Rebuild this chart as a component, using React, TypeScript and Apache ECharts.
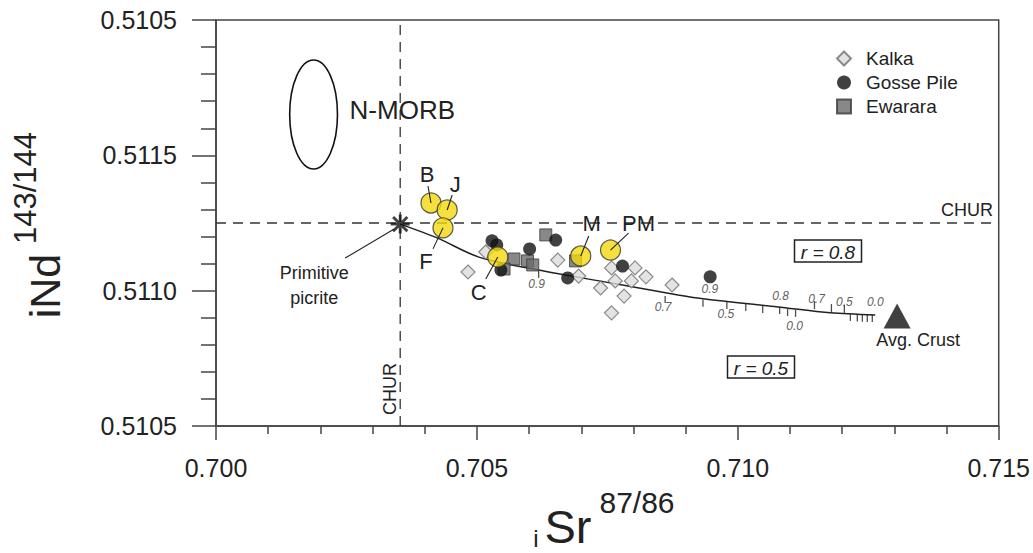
import React, { useEffect, useRef } from "react";
import * as echarts from "echarts";

const FONT = "Liberation Sans, Arial, Helvetica, sans-serif";

// Axis ticks / labels
const xMin = 0.7, xMax = 0.715, xInterval = 0.005;
const yMin = 0.5105, yMax = 0.512, yInterval = 0.0005;
const xTickLabels = ["0.700", "0.705", "0.710", "0.715"];
const yTickLabels = ["0.5105", "0.5110", "0.5115", "0.5105"];

// Data series: [iSr87/86, iNd143/144]
const kalka = [
  [0.70483, 0.511069], [0.70517, 0.511143], [0.70655, 0.511113], [0.70695, 0.511054],
  [0.70758, 0.511084], [0.70803, 0.511084], [0.70824, 0.511051], [0.70765, 0.511036],
  [0.70796, 0.511036], [0.70737, 0.51101], [0.70782, 0.51098], [0.70758, 0.510918],
  [0.70874, 0.511021],
];
const gossePile = [
  [0.70529, 0.511184], [0.70538, 0.511169], [0.70601, 0.511154], [0.70651, 0.511187],
  [0.70546, 0.511076], [0.70674, 0.511047], [0.70779, 0.511091], [0.70947, 0.511051],
];
const ewarara = [
  [0.70632, 0.511206], [0.70571, 0.511117], [0.70597, 0.51111], [0.70607, 0.511095],
  [0.70552, 0.51108], [0.70689, 0.51111],
];
const sampleNames = ["B", "J", "F", "C", "M", "PM"];
const sampleValues = [
  [0.70412, 0.511324], [0.70443, 0.511298], [0.70435, 0.511232],
  [0.7054, 0.511124], [0.70699, 0.511128], [0.70756, 0.51115],
];
// label offsets (px) and leader-line ends (px) relative to each sample
const sampleLabelOffset = [[-4, -28], [8, -26], [-17, 34], [-19, 35], [11, -33], [28, -27]];
const sampleLineOffset = [[-3, -17], [5, -15], [-10, 21], [-12, 22], [8, -20], [18, -17]];

const chur = { sr: 0.70353, nd: 0.51125 };
const churVertical = [[chur.sr, yMin], [chur.sr, yMax]];
const churHorizontal = [[xMin, chur.nd], [xMax, chur.nd]];
const picrite = [0.70353, 0.511246];
const avgCrust = [0.713053, 0.510906];
const nmorb = { sr: 0.70187, nd: 0.511651, halfSr: 0.000458, halfNd: 0.0002014 };

// Mixing curve
const mixCurve = [
  [0.70353, 0.511246], [0.704237, 0.511195], [0.705038, 0.511124], [0.706183, 0.511076],
  [0.707576, 0.511028], [0.708855, 0.510984], [0.70937, 0.510969], [0.710763, 0.51094],
  [0.711775, 0.510918], [0.712634, 0.51091],
];
const curveTicksDown = [
  [0.706183, 0.511073], [0.708607, 0.51098], [0.709332, 0.510966], [0.70979, 0.510958],
  [0.710153, 0.510951], [0.710477, 0.510943], [0.710802, 0.51094], [0.710954, 0.510932],
  [0.711107, 0.510929], [0.712157, 0.510914], [0.71229, 0.510912], [0.712386, 0.510911],
  [0.712481, 0.51091], [0.712577, 0.51091],
];
const curveTicksUp = [
  [0.711469, 0.510932], [0.711794, 0.510921], [0.712042, 0.510918],
];
const curveTickLabels = [
  [0.706145, 0.511025, "0.9"], [0.708569, 0.51094, "0.7"], [0.709466, 0.511006, "0.9"],
  [0.709771, 0.510914, "0.5"], [0.710821, 0.51098, "0.8"], [0.711088, 0.51087, "0.0"],
  [0.711508, 0.510969, "0.7"], [0.712042, 0.510958, "0.5"], [0.712634, 0.510958, "0.0"],
];

const STAR =
  "path://M8.5 0L11.5 0L11.5 20L8.5 20ZM0 8.5L20 8.5L20 11.5L0 11.5ZM3.56 1.44L18.56 16.44L16.44 18.56L1.44 3.56ZM16.44 1.44L18.56 3.56L3.56 18.56L1.44 16.44Z";

export default function App() {
  const ref = useRef<HTMLDivElement>(null);
  useEffect(() => {
    if (!ref.current) return;
    const chart = echarts.init(ref.current, undefined, { renderer: "svg" });
    const axisColor = "#444";
    const dashed = { color: "#333", width: 1.3, type: [10, 7] };
    const option: any = {
      animation: false,
      backgroundColor: "#fff",
      textStyle: { fontFamily: FONT },
      grid: {
        left: 216, right: 31, top: 20, bottom: 127,
        show: true, borderColor: axisColor, borderWidth: 1.5, backgroundColor: "transparent",
      },
      xAxis: {
        type: "value", min: xMin, max: xMax, interval: xInterval,
        axisLine: { lineStyle: { color: axisColor, width: 1.5 } },
        axisTick: { length: 14, lineStyle: { color: axisColor, width: 1.5 } },
        minorTick: { show: true, splitNumber: 5, length: 8, lineStyle: { color: axisColor, width: 1.5 } },
        splitLine: { show: false },
        axisLabel: {
          fontSize: 25, color: "#222", margin: 29, fontFamily: FONT,
          formatter: (v: number) => xTickLabels[Math.round((v - xMin) / xInterval)] ?? "",
        },
      },
      yAxis: {
        type: "value", min: yMin, max: yMax, interval: yInterval,
        axisLine: { lineStyle: { color: axisColor, width: 1.5 } },
        axisTick: { length: 24, lineStyle: { color: axisColor, width: 1.5 } },
        minorTick: { show: true, splitNumber: 5, length: 15, lineStyle: { color: axisColor, width: 1.5 } },
        splitLine: { show: false },
        axisLabel: {
          fontSize: 25, color: "#222", margin: 39, fontFamily: FONT,
          formatter: (v: number) => yTickLabels[Math.round((v - yMin) / yInterval)] ?? "",
        },
      },
      legend: {
        orient: "vertical", left: 831, top: 44, itemWidth: 14, itemHeight: 14, itemGap: 5,
        textStyle: { fontSize: 19, color: "#222", fontFamily: FONT, padding: [0, 0, 0, 10] },
        data: ["Kalka", "Gosse Pile", "Ewarara"],
      },
      series: [
        {
          type: "line", data: churVertical, symbol: "none", z: 1, silent: true,
          lineStyle: dashed,
        },
        {
          type: "line", data: churHorizontal, symbol: "none", z: 1, silent: true,
          lineStyle: dashed,
        },
        {
          type: "line", data: mixCurve, smooth: 0.3, symbol: "none", z: 2, silent: true,
          lineStyle: { color: "#222", width: 1.5 },
        },
        {
          type: "scatter", data: curveTicksDown, symbol: "rect", symbolSize: [1.3, 7],
          symbolOffset: [0, 3.5], itemStyle: { color: "#222" }, z: 2, silent: true,
        },
        {
          type: "scatter", data: curveTicksUp, symbol: "rect", symbolSize: [1.3, 8],
          symbolOffset: [0, -4], itemStyle: { color: "#222" }, z: 2, silent: true,
        },
        {
          type: "scatter", data: curveTickLabels, symbolSize: 0, z: 2, silent: true,
          label: {
            show: true, position: "inside", formatter: (p: any) => p.value[2],
            fontSize: 12, fontStyle: "italic", color: "#333", fontFamily: FONT,
          },
        },
        {
          name: "Kalka", type: "scatter", data: kalka, symbol: "diamond", symbolSize: 14, z: 3,
          itemStyle: { color: "#dcdcdc", borderColor: "#6f6f6f", borderWidth: 1.2 },
        },
        {
          name: "Ewarara", type: "scatter", data: ewarara, symbol: "rect", symbolSize: 12, z: 3,
          itemStyle: { color: "#6a6a6a", borderColor: "#3a3a3a", borderWidth: 1 },
        },
        {
          name: "Gosse Pile", type: "scatter", data: gossePile, symbol: "circle", symbolSize: 13, z: 3,
          itemStyle: { color: "#111" },
        },
        {
          type: "scatter", data: sampleValues, symbol: "circle", symbolSize: 20, z: 4,
          itemStyle: { color: "#f3d80c", borderColor: "#333", borderWidth: 1.2 },
        },
        {
          type: "scatter", data: [picrite], symbol: STAR, symbolSize: 19, z: 5,
          itemStyle: { color: "#111" },
        },
        {
          type: "scatter", data: [avgCrust], symbol: "triangle", symbolSize: [27, 25], z: 5,
          itemStyle: { color: "#111" },
        },
      ],
    };
    chart.setOption(option);

    const px = (v: number[]) => chart.convertToPixel({ gridIndex: 0 }, v) as number[];
    const g: any[] = [];
    const txt = (x: number, y: number, text: string, fontSize: number, extra: any = {}) => ({
      type: "text", x, y, z: 10,
      ...extra,
      style: {
        text, fontSize, fill: "#222", fontFamily: FONT, align: "center", verticalAlign: "middle",
        ...(extra.style || {}),
      },
    });
    const seg = (x1: number, y1: number, x2: number, y2: number) => ({
      type: "line", z: 10,
      shape: { x1, y1, x2, y2 },
      style: { stroke: "#222", lineWidth: 1.1 },
    });

    // N-MORB ellipse
    const c = px([nmorb.sr, nmorb.nd]);
    const e1 = px([nmorb.sr + nmorb.halfSr, nmorb.nd + nmorb.halfNd]);
    g.push({
      type: "ellipse", z: 10,
      shape: { cx: c[0], cy: c[1], rx: Math.abs(e1[0] - c[0]), ry: Math.abs(e1[1] - c[1]) },
      style: { fill: "none", stroke: "#111", lineWidth: 1.6 },
    });
    g.push(txt(c[0] + 36, c[1] - 4, "N-MORB", 26, { style: { align: "left" } }));

    // sample labels + leader lines
    sampleValues.forEach((v, i) => {
      const p = px(v);
      const lo = sampleLabelOffset[i];
      const le = sampleLineOffset[i];
      g.push(seg(p[0], p[1], p[0] + le[0], p[1] + le[1]));
      g.push(txt(p[0] + lo[0], p[1] + lo[1], sampleNames[i], 22));
    });

    // primitive picrite
    const s = px(picrite);
    g.push(seg(s[0] - 6, s[1] + 5, s[0] - 55, s[1] + 34));
    g.push(txt(s[0] - 86, s[1] + 49, "Primitive", 18));
    g.push(txt(s[0] - 86, s[1] + 74, "picrite", 18));

    // CHUR labels
    const ch = px([chur.sr, chur.nd]);
    g.push(txt(993, ch[1] - 13, "CHUR", 18, { style: { align: "right" } }));
    g.push(txt(ch[0] - 10, 389, "CHUR", 18, { rotation: Math.PI / 2 }));

    // avg crust
    const a = px(avgCrust);
    g.push(txt(a[0] + 21, a[1] + 24, "Avg. Crust", 18));

    // r boxes
    const box = (cx: number, cy: number, text: string) => {
      g.push({
        type: "rect", z: 10, shape: { x: cx - 33.5, y: cy - 11, width: 67, height: 22 },
        style: { fill: "#fff", stroke: "#222", lineWidth: 1.5 },
      });
      g.push(txt(cx, cy + 1, text, 19, { style: { fontStyle: "italic" } }));
    };
    box(828, 251, "r = 0.8");
    box(761, 367, "r = 0.5");

    // axis titles
    g.push(txt(45, 286, "iNd", 43, { rotation: Math.PI / 2 }));
    g.push(txt(25, 188, "143/144", 31, { rotation: Math.PI / 2 }));
    g.push(txt(568, 526, "Sr", 47));
    g.push(txt(536, 538, "i", 24));
    g.push(txt(637, 502, "87/86", 30));

    chart.setOption({ graphic: g });
    return () => chart.dispose();
  }, []);
  return (
    <div
      ref={ref}
      style={{ position: "fixed", left: 0, top: 0, width: 1033, height: 553, background: "#fff" }}
    />
  );
}
